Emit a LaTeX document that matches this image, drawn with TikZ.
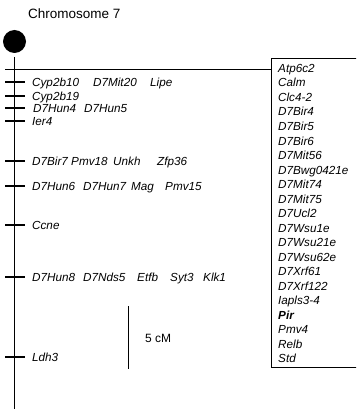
\documentclass[tikz,border=0pt]{standalone}
\usepackage{fontspec}
\setmainfont{Liberation Sans}
\begin{document}
\begin{tikzpicture}[x=1pt,y=-1pt,
  lab/.style={font=\fontsize{11.7}{14}\selectfont\itshape, inner sep=0pt, anchor=base west},
  ttl/.style={inner sep=0pt, anchor=base west},
  tick/.style={line width=1.2pt},
  chrom/.style={line width=1.5pt},
  thin/.style={line width=1pt}]
\useasboundingbox (0,0) rectangle (356,409);
\clip (0,0) rectangle (356,409);
% title
\node[ttl] (title) at (28,18.5) {\fontsize{13.5}{16}\selectfont Chromosome 7};
% centromere
\fill (14.5,41.5) circle (11.5pt);
% chromosome
\coordinate (ctop) at (14.5,57);
\coordinate (cbot) at (14.5,409);
\draw[chrom] (ctop) -- (cbot);
% box
\node[draw, line width=1pt, minimum width=100pt, minimum height=309pt, anchor=north west, inner sep=0pt] (box) at (271,58) {};
\coordinate (hl) at (5,70);
\draw[thin] (hl) -- (hl -| box.west);
% box labels
\foreach \t [count=\i from 0] in {Atp6c2, Calm, Clc4-2, D7Bir4, D7Bir5, D7Bir6, D7Mit56, D7Bwg0421e, D7Mit74, D7Mit75, D7Ucl2, D7Wsu1e, D7Wsu21e, D7Wsu62e, D7Xrf61, D7Xrf122, Iapls3-4, {\bfseries Pir}, Pmv4, Relb, Std}
  \node[lab] (b\i) at (278,{72.5+14.5*\i}) {\t};
% ticks
\foreach \y in {82,96,108,121,161,186,225,277,357}
  \draw[tick] (5,\y) -- (25,\y);
% left labels
\node[lab] (l1a) at (32,86.5) {Cyp2b10};
\node[lab] (l1b) at (93,86.5) {D7Mit20};
\node[lab] (l1c) at (150,86.5) {Lipe};
\node[lab] (l2a) at (32,100.5) {Cyp2b19};
\node[lab] (l3a) at (33,112.5) {D7Hun4};
\node[lab] (l3b) at (84,112.5) {D7Hun5};
\node[lab] (l4a) at (32,125.5) {Ier4};
\node[lab] (l5a) at (32,165.5) {D7Bir7};
\node[lab] (l5b) at (71,165.5) {Pmv18};
\node[lab] (l5c) at (113,165.5) {Unkh};
\node[lab] (l5d) at (157,165.5) {Zfp36};
\node[lab] (l6a) at (32,190.5) {D7Hun6};
\node[lab] (l6b) at (83,190.5) {D7Hun7};
\node[lab] (l6c) at (131,190.5) {Mag};
\node[lab] (l6d) at (165,190.5) {Pmv15};
\node[lab] (l7a) at (32,229.5) {Ccne};
\node[lab] (l8a) at (32,281.5) {D7Hun8};
\node[lab] (l8b) at (83,281.5) {D7Nds5};
\node[lab] (l8c) at (137,281.5) {Etfb};
\node[lab] (l8d) at (170,281.5) {Syt3};
\node[lab] (l8e) at (203,281.5) {Klk1};
\node[lab] (l9a) at (32,361.5) {Ldh3};
% scale bar
\coordinate (sbt) at (128,306);
\coordinate (sbb) at (128,369);
\draw[thin] (sbt) -- (sbb);
\node[ttl] (sbl) at (145,342.5) {\fontsize{12}{14}\selectfont 5 cM};
\end{tikzpicture}
\end{document}
